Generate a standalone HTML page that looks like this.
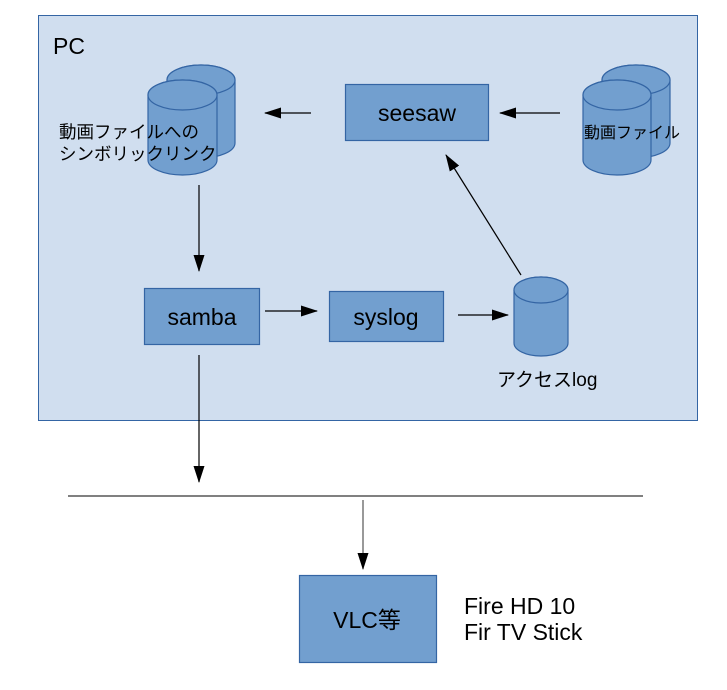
<!DOCTYPE html>
<html><head><meta charset="utf-8"><style>
html,body{margin:0;padding:0;background:#fff;width:727px;height:690px;overflow:hidden}
svg text{font-family:"Liberation Sans","Noto Sans CJK JP",sans-serif;fill:#000}
</style></head><body>
<svg width="727" height="690" viewBox="0 0 727 690" xmlns="http://www.w3.org/2000/svg">
<defs><marker id="a" markerWidth="17" markerHeight="11" refX="16" refY="5.5" orient="auto" markerUnits="userSpaceOnUse"><path d="M0,0 L17,5.5 L0,11 z" fill="#000"/></marker></defs>
<rect x="38.5" y="15.5" width="659" height="405" fill="#d0deef" stroke="#3465a4"/>
<text x="53" y="54" font-size="23">PC</text>
<g fill="#729fcf" stroke="#3465a4" stroke-width="1.2">
<path d="M167,80 A34,15 0 0 1 235,80 L235,143 A34,15 0 0 1 167,143 Z"/>
<ellipse cx="201" cy="80" rx="34" ry="15"/>
<path d="M148,95 A34.5,15 0 0 1 217,95 L217,160 A34.5,15 0 0 1 148,160 Z"/>
<ellipse cx="182.5" cy="95" rx="34.5" ry="15"/>
<path d="M602,80 A34,15 0 0 1 670,80 L670,143 A34,15 0 0 1 602,143 Z"/>
<ellipse cx="636" cy="80" rx="34" ry="15"/>
<path d="M583,95 A34,15 0 0 1 651,95 L651,160 A34,15 0 0 1 583,160 Z"/>
<ellipse cx="617" cy="95" rx="34" ry="15"/>
<path d="M514,290 A27,13 0 0 1 568,290 L568,343 A27,13 0 0 1 514,343 Z"/>
<ellipse cx="541" cy="290" rx="27" ry="13"/>
<rect x="345.5" y="84.5" width="143" height="56"/>
<rect x="144.5" y="288.5" width="115" height="56"/>
<rect x="329.5" y="291.5" width="114" height="50"/>
<rect x="299.5" y="575.5" width="137" height="87"/>
</g>
<text x="59" y="138" font-size="17.5">動画ファイルへの</text>
<text x="59" y="160" font-size="17.5">シンボリックリンク</text>
<text x="584" y="138" font-size="16">動画ファイル</text>
<text x="497" y="386" font-size="19">アクセスlog</text>
<text x="417" y="121" font-size="23" text-anchor="middle">seesaw</text>
<text x="202" y="325" font-size="23" text-anchor="middle">samba</text>
<text x="386" y="325" font-size="23" text-anchor="middle">syslog</text>
<text x="367" y="628" font-size="23" text-anchor="middle">VLC等</text>
<text x="464" y="614" font-size="23">Fire HD 10</text>
<text x="464" y="640" font-size="23">Fir TV Stick</text>
<g stroke="#000" stroke-width="1.2" fill="none" marker-end="url(#a)">
<line x1="311" y1="113" x2="265" y2="113"/>
<line x1="560" y1="113" x2="500" y2="113"/>
<line x1="199" y1="185" x2="199" y2="271"/>
<line x1="265" y1="311" x2="317" y2="311"/>
<line x1="458" y1="315" x2="508" y2="315"/>
<line x1="521" y1="275" x2="446" y2="155"/>
<line x1="199" y1="355" x2="199" y2="482"/>
<line x1="363" y1="500" x2="363" y2="569" stroke="#555"/>
</g>
<line x1="68" y1="496" x2="643" y2="496" stroke="#808080" stroke-width="2"/>
</svg>
</body></html>
